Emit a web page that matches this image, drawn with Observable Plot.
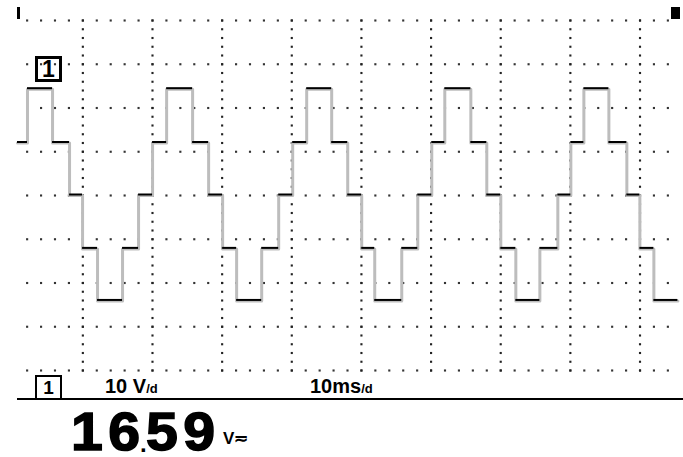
<!DOCTYPE html>
<html>
<head>
<meta charset="utf-8">
<script src="https://cdn.jsdelivr.net/npm/d3@7"></script>
<script src="https://cdn.jsdelivr.net/npm/@observablehq/plot@0.6"></script>
<style>
  body { margin: 0; background: #fff; }
  #wrap { position: relative; width: 683px; height: 457px; overflow: hidden; background: #fff; font-family: "Liberation Sans", Arial, sans-serif; }
  #chart { position: absolute; left: 0; top: 0; }
  .abs { position: absolute; }
  .blk { background: #000; }
  .box { box-sizing: border-box; border: 2px solid #000; text-align: center; font-weight: bold; }
  .lbl { font-weight: bold; font-size: 20px; line-height: 20px; white-space: nowrap; color: #000; }
  .sm { font-size: 13px; }
  .big { font-weight: bold; font-size: 53px; line-height: 40px; white-space: nowrap; color: #000;
         -webkit-text-stroke: 1.5px #000; transform: scaleX(1.08); transform-origin: 0 0; }
</style>
</head>
<body>
<div id="wrap">
  <div id="chart"></div>
  <div class="abs blk" style="left:17px;top:7px;width:3px;height:12px"></div>
  <div class="abs blk" style="left:671px;top:7px;width:9px;height:12px"></div>
  <div class="abs box" style="left:35px;top:56px;width:27px;height:26px;border-width:3px;font-size:23px;line-height:21px">1</div>
  <div class="abs box" style="left:35px;top:375px;width:27px;height:25px;font-size:19px;line-height:21px">1</div>
  <div class="abs lbl" style="left:105px;top:376px">10 V<span class="sm">/d</span></div>
  <div class="abs lbl" style="left:310px;top:376px">10ms<span class="sm">/d</span></div>
  <div class="abs blk" style="left:17px;top:398px;width:666px;height:2px"></div>
  <div class="abs big" style="left:71px;top:412px"><span style="letter-spacing:5px">1</span>6</div>
  <div class="abs" style="left:140px;top:435px;font-weight:bold;font-size:24px;line-height:18px">.</div>
  <div class="abs big" style="left:146px;top:412px"><span style="letter-spacing:5px">5</span>9</div>
  <div class="abs lbl" style="left:223px;top:430px;font-size:17px;line-height:17px">V≂</div>
</div>
<script>
// Trace: time of each step (ms) and the level (V) that follows it
const edgeTimes = [0.62, 2.05, 5.65, 8.09, 9.96, 12.11, 15.70, 18.00,
  20.01, 22.03, 25.76, 28.06, 30.07, 32.08, 35.68, 38.12,
  40.13, 42.14, 45.73, 48.03, 50.04, 51.91, 55.79, 58.09,
  60.10, 61.97, 65.71, 68.00, 70.01, 72.17, 75.62, 78.20,
  80.07, 81.94, 85.53, 88.11, 89.98, 91.99, 95.44];
const edgeLevels = [12.0, 24.3, 12.0, 0, -12.2, -24.1, -12.2, 0,
  12.0, 24.3, 12.0, 0, -12.2, -24.1, -12.2, 0,
  12.0, 24.3, 12.0, 0, -12.2, -24.1, -12.2, 0,
  12.0, 24.3, 12.0, 0, -12.2, -24.1, -12.2, 0,
  12.0, 24.3, 12.0, 0, -12.2, -24.1, -24.1];
// Screen grid: 10 ms/div horizontally, 10 V/div vertically
const gridTimes = [10, 20, 30, 40, 50, 60, 70, 80, 90];
const gridVolts = [-40, -30, -20, -10, 0, 10, 20, 30, 40];

const trace = edgeTimes.map((t, i) => ({t, v: edgeLevels[i]}));
const flats = edgeTimes.slice(0, -1).map((t, i) => ({t0: t, t1: edgeTimes[i + 1], v: edgeLevels[i]}));
const rowDots = [];
for (const v of gridVolts) for (const t of d3.range(2, 95, 2)) rowDots.push({t, v});
const colDots = [];
for (const t of gridTimes) for (const v of d3.range(-40, 40.01, 2)) colDots.push({t, v});

const chart = Plot.plot({
  width: 683,
  height: 400,
  marginTop: 20,
  marginBottom: 30,
  marginLeft: 12.7,
  marginRight: 5.6,
  x: {domain: [0, 95.44], axis: null},
  y: {domain: [-40, 40], axis: null},
  style: {background: "transparent"},
  marks: [
    Plot.dot(rowDots, {x: "t", y: "v", symbol: "square", r: 1.2, fill: "#333", stroke: "none"}),
    Plot.dot(colDots, {x: "t", y: "v", symbol: "square", r: 1.2, fill: "#222", stroke: "none"}),
    Plot.line(trace, {x: "t", y: "v", curve: "step-after", stroke: "#bdbdbd", strokeWidth: 3}),
    Plot.ruleY(flats, {y: "v", x1: "t0", x2: "t1", stroke: "#000", strokeWidth: 2, dy: -1})
  ]
});
document.getElementById("chart").appendChild(chart);
</script>
</body>
</html>
